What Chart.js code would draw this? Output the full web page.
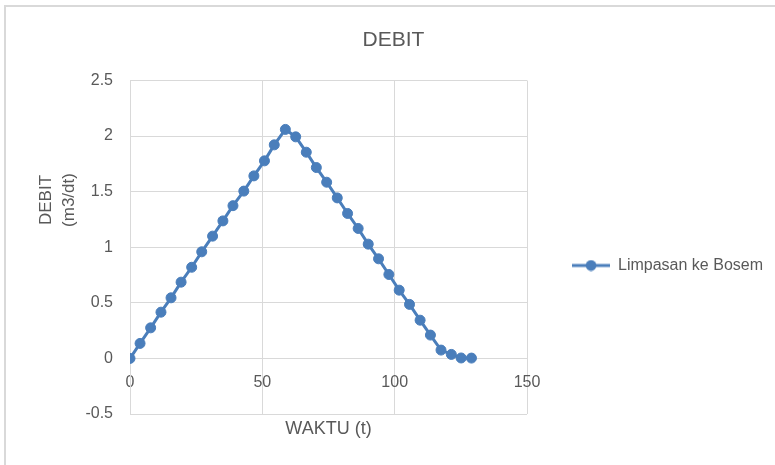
<!DOCTYPE html>
<html>
<head>
<meta charset="utf-8">
<script src="https://cdn.jsdelivr.net/npm/chart.js@4.4.1/dist/chart.umd.min.js"></script>
<style>
  html, body { margin: 0; padding: 0; background: #ffffff; }
  #wrap { position: relative; width: 775px; height: 465px; overflow: hidden; }
  #frame { position: absolute; left: 4px; top: 5px; width: 800px; height: 500px;
           border-left: 2px solid #d9d9d9; border-top: 2px solid #d9d9d9; }
  #c { position: absolute; left: 0; top: 0; }
</style>
</head>
<body>
<div id="wrap">
  <div id="frame"></div>
  <canvas id="c" width="775" height="465"></canvas>
</div>
<script>
// ---- data ----
const chartTitle = 'DEBIT';
const seriesName = 'Limpasan ke Bosem';
const xTitle = 'WAKTU (t)';
const yTitle = ['DEBIT', '(m3/dt)'];
const waktu = [0, 3.8, 7.8, 11.7, 15.5, 19.3, 23.3, 27.1, 31.2, 35.1,
               38.9, 43.0, 46.8, 50.8, 54.5, 58.7,
               62.6, 66.6, 70.4, 74.3, 78.3, 82.2, 86.2, 90.0, 93.9, 97.8,
               101.7, 105.6, 109.6, 113.5, 117.5, 121.4, 125.1, 129.0];
const debit = [0, 0.135, 0.275, 0.416, 0.545, 0.686, 0.82, 0.959, 1.10, 1.237,
               1.374, 1.505, 1.642, 1.777, 1.921, 2.06,
               1.993, 1.855, 1.717, 1.585, 1.444, 1.304, 1.169, 1.028, 0.896, 0.755,
               0.614, 0.486, 0.344, 0.21, 0.075, 0.036, 0.004, 0.003];
const xTicks = [0, 50, 100, 150];
const yTicks = [-0.5, 0, 0.5, 1, 1.5, 2, 2.5];

// ---- styling ----
const BLUE = '#4a7ebb';
const GRID = '#d9d9d9';
const TEXT = '#595959';
const FONT = "'Liberation Sans', Arial, sans-serif";

// legend marker: line with a dot
const marker = document.createElement('canvas');
marker.width = 38; marker.height = 12;
(function () {
  const m = marker.getContext('2d');
  m.strokeStyle = BLUE; m.lineWidth = 3;
  m.beginPath(); m.moveTo(0, 6); m.lineTo(38, 6); m.stroke();
  m.fillStyle = BLUE; m.beginPath(); m.arc(19, 6, 5.4, 0, Math.PI * 2); m.fill();
})();

const pad = (s, n) => '\u00a0'.repeat(n) + s;

// move the legend block lower, as in the reference
const legendShift = {
  id: 'legendShift',
  afterLayout(chart) {
    const l = chart.legend;
    if (l) { l.top += 33; l.bottom += 33; }
  }
};

new Chart(document.getElementById('c'), {
  type: 'line',
  data: {
    datasets: [{
      label: seriesName,
      data: waktu.map((x, i) => ({ x: x, y: debit[i] })),
      borderColor: BLUE,
      backgroundColor: BLUE,
      borderWidth: 3,
      pointRadius: 5,
      pointBorderWidth: 1,
      pointBackgroundColor: BLUE,
      pointBorderColor: BLUE,
      tension: 0,
      fill: false
    }]
  },
  plugins: [legendShift],
  options: {
    responsive: false,
    animation: false,
    layout: { padding: { top: 0, left: 14, right: 2, bottom: 0 } },
    plugins: {
      title: {
        display: true,
        text: chartTitle,
        color: TEXT,
        font: { family: FONT, size: 21, weight: 'normal', lineHeight: 1.2 },
        padding: { top: 28, bottom: 27.3 }
      },
      legend: {
        position: 'right',
        align: 'center',
        maxWidth: 320,
        labels: {
          usePointStyle: true,
          pointStyle: marker,
          pointStyleWidth: 38,
          boxHeight: 12,
          padding: 10,
          color: TEXT,
          font: { family: FONT, size: 16 }
        }
      },
      tooltip: { enabled: false }
    },
    scales: {
      x: {
        type: 'linear',
        position: { y: 0 },
        min: xTicks[0],
        max: xTicks[xTicks.length - 1],
        afterBuildTicks: s => { s.ticks = xTicks.map(v => ({ value: v })); },
        grid: { color: GRID, lineWidth: 1, drawTicks: false },
        border: { display: true, color: GRID, width: 1 },
        ticks: { color: TEXT, font: { family: FONT, size: 16 }, padding: 15, maxRotation: 0 }
      },
      x2: {
        type: 'linear',
        position: 'bottom',
        min: xTicks[0],
        max: xTicks[xTicks.length - 1],
        grid: { display: false, drawTicks: false },
        border: { display: false },
        ticks: { display: false },
        title: {
          display: true, text: xTitle, color: TEXT,
          font: { family: FONT, size: 18, lineHeight: 1.2 },
          padding: { top: 0, bottom: 25 }
        },
        afterFit: s => { s.height = 51; }
      },
      y: {
        type: 'linear',
        position: 'left',
        min: yTicks[0],
        max: yTicks[yTicks.length - 1],
        afterBuildTicks: s => { s.ticks = yTicks.map(v => ({ value: v })); },
        grid: { color: GRID, lineWidth: 1, drawTicks: false },
        border: { display: true, color: GRID, width: 1 },
        ticks: { color: TEXT, font: { family: FONT, size: 16 }, padding: 17, callback: v => String(v) },
        title: {
          display: true,
          text: yTitle.map(t => pad(t, 20)),
          color: TEXT,
          font: { family: FONT, size: 17, lineHeight: 1.4 },
          padding: { top: 20, bottom: 0 }
        },
        afterFit: s => { s.width = 116; }
      },
      y2: {
        type: 'linear',
        position: 'right',
        min: 0, max: 1,
        grid: { display: false, drawTicks: false },
        border: { display: false },
        ticks: { display: false },
        afterFit: s => { s.width = 35; }
      }
    }
  }
});
</script>
</body>
</html>
